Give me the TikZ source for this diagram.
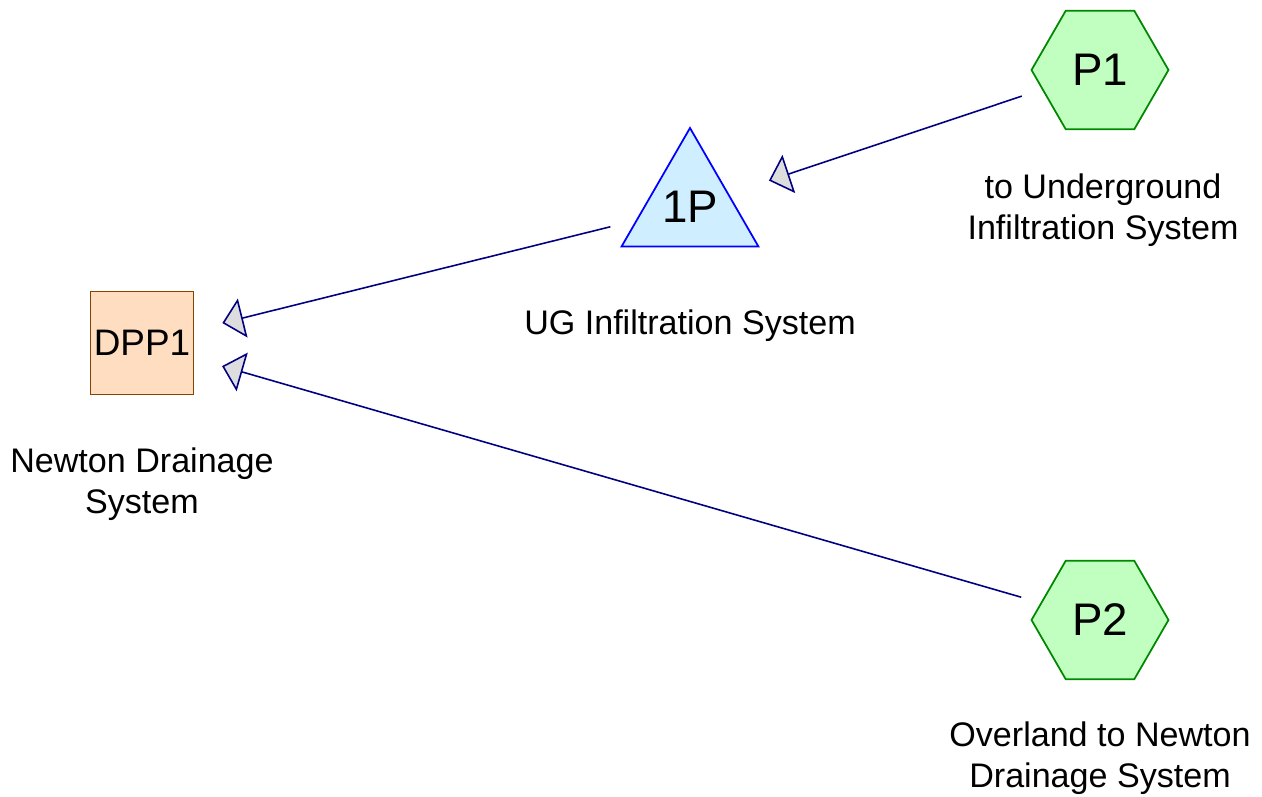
\documentclass[tikz,border=0pt]{standalone}
\usepackage{fontspec}
\setmainfont{Liberation Sans}
\usepackage{xcolor}
\usetikzlibrary{arrows.meta, shapes.geometric, positioning}

\definecolor{subfill}{HTML}{C0FFC0}
\definecolor{subline}{HTML}{008800}
\definecolor{pondfill}{HTML}{CFEEFF}
\definecolor{pondline}{HTML}{0000FF}
\definecolor{linkfill}{HTML}{FFDDC0}
\definecolor{linkline}{HTML}{844400}
\definecolor{flowline}{HTML}{000080}
\definecolor{tipfill}{HTML}{DDDDDD}

\begin{document}
\begin{tikzpicture}[
        x=0.02cm, y=-0.02cm,
        every node/.style={align=center},
        tag/.style={font=\fontsize{19.4}{23.3}\selectfont},
        subcat/.style={draw=subline, fill=subfill, line width=1pt, regular polygon, regular polygon sides=6, minimum size=2.74cm, inner sep=0pt, font=\fontsize{26}{30}\selectfont},
        pond/.style={draw=pondline, fill=pondfill, line width=1pt, regular polygon, regular polygon sides=3, minimum size=3.14cm, inner sep=0pt, font=\fontsize{26}{30}\selectfont},
        link/.style={draw=linkline, fill=linkfill, line width=0.8pt, minimum size=2.06cm, inner sep=0pt, font=\fontsize{21}{25}\selectfont},
        flow/.style={draw=flowline, line width=0.9pt, -{Triangle[length=0.42cm, width=0.8cm, fill=tipfill]}}
    ]
        \useasboundingbox (0,0) rectangle (1262,797);

        \node[subcat] (p1) at (1100,70) {P1};
        \node[subcat] (p2) at (1100,620) {P2};
        \node[pond] (pond1) at (690,207) {1P};
        \node[link] (dpp1) at (142,343) {DPP1};

        \node[tag, below=0.74cm of p1, xshift=0.06cm] (p1tag) {to Underground\\Infiltration System};
        \node[tag, below=0.70cm of p2] (p2tag) {Overland to Newton\\Drainage System};
        \node[tag, below=1.12cm of pond1] (pondtag) {UG Infiltration System};
        \node[tag, below=0.92cm of dpp1] (dpptag) {Newton Drainage\\System};

        \draw[flow, shorten <=0.42cm, shorten >=0.84cm] (p1) -- (pond1);
        \draw[flow, shorten <=0.52cm, shorten >=0.58cm] (pond1) -- (dpp1);
        \draw[flow, shorten <=0.40cm, shorten >=0.58cm] (p2) -- (dpp1);
\end{tikzpicture}
\end{document}
